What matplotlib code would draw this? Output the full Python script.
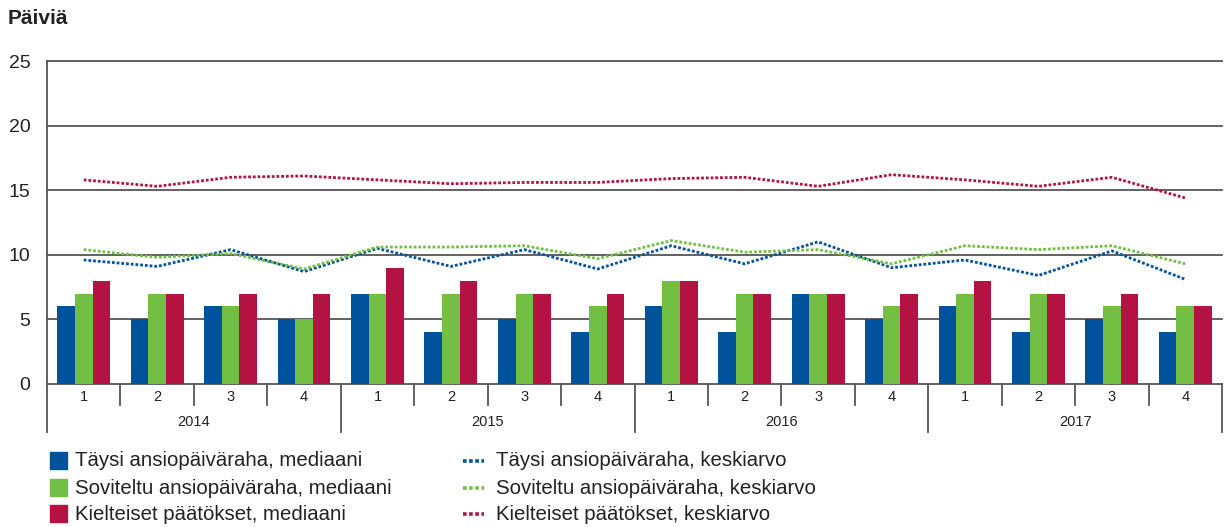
import matplotlib
matplotlib.use("Agg")
import matplotlib.pyplot as plt
import matplotlib.transforms as mtransforms
from matplotlib import font_manager
from matplotlib.lines import Line2D
from matplotlib.patches import Rectangle
import numpy as np

# ── data ──────────────────────────────────────────────────────────────────────
years = ["2014", "2015", "2016", "2017"]
quarters = ["1", "2", "3", "4"]

taysi_median     = [6, 5, 6, 5, 7, 4, 5, 4, 6, 4, 7, 5, 6, 4, 5, 4]
soviteltu_median = [7, 7, 6, 5, 7, 7, 7, 6, 8, 7, 7, 6, 7, 7, 6, 6]
kielteiset_median = [8, 7, 7, 7, 9, 8, 7, 7, 8, 7, 7, 7, 8, 7, 7, 6]

taysi_mean      = [9.6, 9.1, 10.4, 8.7, 10.5, 9.1, 10.4, 8.9,
                   10.7, 9.3, 11.0, 9.0, 9.6, 8.4, 10.3, 8.1]
soviteltu_mean  = [10.4, 9.8, 10.1, 8.9, 10.6, 10.6, 10.7, 9.7,
                   11.1, 10.2, 10.4, 9.3, 10.7, 10.4, 10.7, 9.3]
kielteiset_mean = [15.8, 15.3, 16.0, 16.1, 15.8, 15.5, 15.6, 15.6,
                   15.9, 16.0, 15.3, 16.2, 15.8, 15.3, 16.0, 14.4]

bar_labels = ["Täysi ansiopäiväraha, mediaani",
              "Soviteltu ansiopäiväraha, mediaani",
              "Kielteiset päätökset, mediaani"]
line_labels = ["Täysi ansiopäiväraha, keskiarvo",
               "Soviteltu ansiopäiväraha, keskiarvo",
               "Kielteiset päätökset, keskiarvo"]

BLUE = "#00529b"
GREEN = "#72bf44"
RED = "#b31243"
GRID = "#555555"
TEXT = "#222222"

names = {f.name for f in font_manager.fontManager.ttflist}
NARROW = "Liberation Sans Narrow" if "Liberation Sans Narrow" in names else "Liberation Sans"
SANS = "Liberation Sans"

fig = plt.figure(figsize=(12.26, 5.27), dpi=100)
ax = fig.add_axes([47 / 1226, 1 - 384 / 527, (1222 - 47) / 1226, 323 / 527])

n = len(taysi_median)
x = np.arange(n)
w = 0.24
ax.bar(x - w, taysi_median, w, color=BLUE, zorder=3)
ax.bar(x, soviteltu_median, w, color=GREEN, zorder=3)
ax.bar(x + w, kielteiset_median, w, color=RED, zorder=3)

ls = (0, (1.0, 0.7))
ax.plot(x, taysi_mean, color=BLUE, lw=2.0, linestyle=ls, zorder=4)
ax.plot(x, soviteltu_mean, color=GREEN, lw=2.0, linestyle=ls, zorder=4)
ax.plot(x, kielteiset_mean, color=RED, lw=2.0, linestyle=ls, zorder=4)

ax.set_xlim(-0.5, n - 0.5)
ax.set_ylim(0, 25)
for yv in [5, 10, 15, 20, 25]:
    ax.axhline(yv, color=GRID, lw=1.3, zorder=1, clip_on=False)

ax.set_yticks([0, 5, 10, 15, 20, 25])
ax.tick_params(axis="y", length=0, pad=12, labelsize=14, colors=TEXT)
for lab in ax.get_yticklabels():
    lab.set_fontfamily(NARROW)
ax.set_xticks([])

for s in ["top", "right"]:
    ax.spines[s].set_visible(False)
ax.spines["left"].set_color(GRID)
ax.spines["left"].set_linewidth(1.3)
ax.spines["bottom"].set_color(GRID)
ax.spines["bottom"].set_linewidth(1.3)

# two-level category axis
trans = mtransforms.blended_transform_factory(ax.transData, ax.transAxes)
for k in range(n + 1):
    xb = k - 0.5
    low = -0.149 if k % 4 == 0 else -0.065
    ax.add_line(Line2D([xb, xb], [0, low], transform=trans, color=GRID,
                       lw=1.3, clip_on=False))
for i in range(n):
    ax.text(i, -0.04, quarters[i % 4], transform=trans, ha="center", va="center",
            fontsize=10.5, family=NARROW, color=TEXT)
for j, yr in enumerate(years):
    ax.text(4 * j + 1.5, -0.118, yr, transform=trans, ha="center", va="center",
            fontsize=10.5, family=NARROW, color=TEXT)

fig.text(8 / 1226, 1 - 18 / 527, "Päiviä", ha="left", va="center",
         fontsize=15, fontweight="bold", family=SANS, color=TEXT)

# legend
row_y = [461, 488, 514]
for i, (lab, col) in enumerate(zip(bar_labels, [BLUE, GREEN, RED])):
    yc = 1 - row_y[i] / 527
    fig.add_artist(Rectangle((50 / 1226, yc - 8 / 527), 17 / 1226, 17 / 527,
                             transform=fig.transFigure, color=col))
    fig.text(75 / 1226, yc, lab, ha="left", va="center", fontsize=14.7,
             family=SANS, color=TEXT)
for i, (lab, col) in enumerate(zip(line_labels, [BLUE, GREEN, RED])):
    yc = 1 - row_y[i] / 527
    fig.add_artist(Line2D([463 / 1226, 484 / 1226], [yc, yc],
                          transform=fig.transFigure, color=col, lw=2.6,
                          linestyle=(0, (1.0, 0.7))))
    fig.text(496 / 1226, yc, lab, ha="left", va="center", fontsize=14.7,
             family=SANS, color=TEXT)

fig.savefig("out.png", dpi=100)
